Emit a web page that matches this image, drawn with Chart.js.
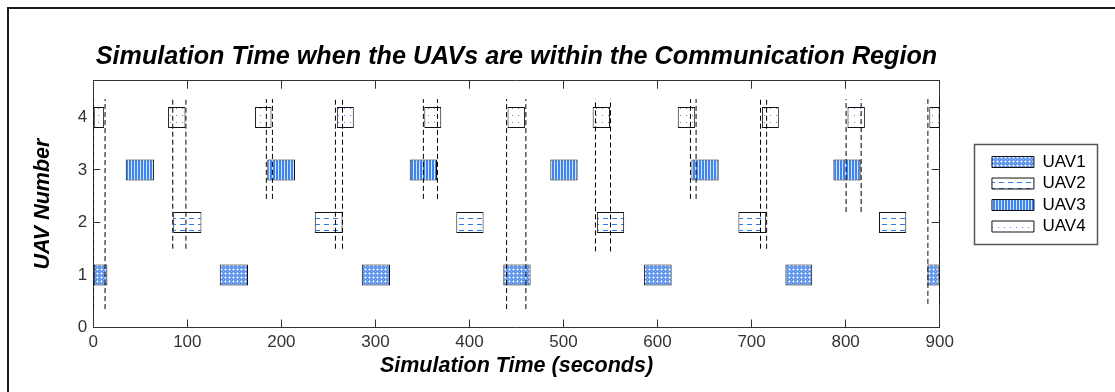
<!DOCTYPE html>
<html>
<head>
<meta charset="utf-8">
<script src="https://cdn.jsdelivr.net/npm/chart.js@4.4.1/dist/chart.umd.min.js"></script>
<style>
  html, body { margin: 0; padding: 0; background: #fff; }
  #wrap { position: relative; width: 1115px; height: 392px; overflow: hidden; }
  #wrap canvas { display: block; }
  #frame { position: absolute; left: 7px; top: 7px; right: -10px; bottom: -10px;
           border-top: 2px solid #1a1a1a; border-left: 2px solid #1a1a1a; pointer-events: none; }
</style>
</head>
<body>
<div id="wrap">
  <canvas id="chart" width="1115" height="392"></canvas>
  <div id="frame"></div>
</div>
<script>
// Time windows (seconds) during which each UAV is inside the communication region
const uavNames = ['UAV1', 'UAV2', 'UAV3', 'UAV4'];
const uavLevels = [1, 2, 3, 4];
const uav1Windows = [[0, 15], [134.5, 164.5], [285.5, 315.5], [436, 465], [585.5, 615], [736, 764.5], [887, 899]];
const uav2Windows = [[85, 115], [235.5, 265], [386, 415], [535.5, 564.5], [686, 715.5], [835.5, 864.5]];
const uav3Windows = [[34.5, 64.5], [185, 214.5], [336.5, 365.5], [486, 515], [636, 665], [787, 816]];
const uav4Windows = [[0, 11.5], [79.5, 98], [172, 189.5], [259, 277], [352, 370], [440.5, 459], [531, 549.5], [621.5, 640], [711, 729], [802, 820.5], [889, 900]];

// Overlap intervals with UAV4 (start / end times) and the lowest UAV level each one reaches
const linkStart = [0, 84.5, 184, 257.5, 351, 439.5, 534, 635, 709.5, 800.5, 887.5];
const linkEnd = [12.5, 98.5, 190.5, 265, 366, 460, 550, 641, 716, 816.5, 900];
const linkFloor = [0.35, 1.5, 2.45, 1.5, 2.45, 0.35, 1.45, 2.45, 1.5, 2.2, 0.45];
const linkTop = 4.35;

const xTicksMax = 900;
const yTicksMax = 4.7;

const FONT = "'Liberation Sans', Arial, Helvetica, sans-serif";

// --- hatch fills ---------------------------------------------------------
function makePattern(w, h, paint) {
  const c = document.createElement('canvas');
  c.width = w; c.height = h;
  const g = c.getContext('2d');
  paint(g);
  return g.createPattern(c, 'repeat');
}
const pxl = (g, color, pts) => { g.fillStyle = color; pts.forEach(p => g.fillRect(p[0], p[1], 1, 1)); };

const fillUav1 = makePattern(4, 4, g => {
  g.fillStyle = '#5b92ee'; g.fillRect(0, 0, 4, 4);
  pxl(g, '#ffffff', [[1, 1]]);
  pxl(g, '#b9d2f8', [[0, 1], [2, 1], [1, 0], [1, 2]]);
  pxl(g, '#8cb4f4', [[3, 3]]);
});
const fillUav2 = makePattern(9, 6, g => {
  g.fillStyle = '#ffffff'; g.fillRect(0, 0, 9, 6);
  g.fillStyle = '#2f7be8'; g.fillRect(0, 2, 5, 1);
});
const fillUav3 = makePattern(3, 1, g => {
  g.fillStyle = '#3f85ee'; g.fillRect(0, 0, 3, 1);
  g.fillStyle = '#d6e5fc'; g.fillRect(2, 0, 1, 1);
});
const fillUav4 = makePattern(6, 7, g => {
  g.fillStyle = '#ffffff'; g.fillRect(0, 0, 6, 7);
  pxl(g, '#4a8cf0', [[2, 3]]);
});
const fills = [fillUav1, fillUav2, fillUav3, fillUav4];
const windows = [uav1Windows, uav2Windows, uav3Windows, uav4Windows];

// --- datasets --------------------------------------------------------------
const barSets = uavNames.map((name, i) => ({
  type: 'bar',
  label: name,
  data: windows[i].map(w => ({ x: w, y: uavLevels[i] })),
  backgroundColor: fills[i],
  borderColor: '#111',
  borderWidth: 1,
  borderSkipped: false,
  grouped: false,
  barPercentage: 0.4,
  categoryPercentage: 1,
  xAxisID: 'x',
  yAxisID: 'y',
  order: 2
}));

const linkSets = [];
linkStart.forEach((s, i) => {
  [s, linkEnd[i]].forEach(t => {
    linkSets.push({
      type: 'line',
      label: 'link',
      data: [{ x: t, y: linkFloor[i] }, { x: t, y: linkTop }],
      borderColor: '#000',
      borderWidth: 1,
      borderDash: [5, 3],
      pointRadius: 0,
      fill: false,
      xAxisID: 'x',
      yAxisID: 'y',
      order: 1
    });
  });
});

// --- frame around the legend ---------------------------------------------
const legendFrame = {
  id: 'legendFrame',
  afterDraw(chart) {
    const boxes = chart.legend && chart.legend.legendHitBoxes;
    if (!boxes || !boxes.length) return;
    const first = boxes[0], last = boxes[boxes.length - 1];
    const x0 = first.left - 18;
    const x1 = Math.max(...boxes.map(b => b.left + b.width)) + 11;
    const y0 = first.top - 10;
    const y1 = last.top + last.height + 8;
    const ctx = chart.ctx;
    ctx.save();
    ctx.strokeStyle = '#555';
    ctx.lineWidth = 1.5;
    ctx.strokeRect(Math.round(x0) + 0.5, Math.round(y0) + 0.5, Math.round(x1 - x0), Math.round(y1 - y0));
    ctx.restore();
  }
};

const axisColor = '#333';
const tickFont = { family: FONT, size: 17 };
const labelFont = { family: FONT, size: 21.5, weight: 'bold', style: 'italic' };

new Chart(document.getElementById('chart'), {
  type: 'bar',
  data: { datasets: [...barSets, ...linkSets] },
  plugins: [legendFrame],
  options: {
    indexAxis: 'y',
    responsive: false,
    animation: false,
    events: [],
    layout: { padding: { left: 0, top: 0, right: 19.4, bottom: 3.5 } },
    scales: {
      x: {
        type: 'linear', position: 'bottom', min: 0, max: xTicksMax,
        ticks: { stepSize: 100, color: axisColor, font: tickFont, padding: 12.3, maxRotation: 0, autoSkip: false },
        grid: { drawOnChartArea: false, drawTicks: true, tickLength: -8, color: axisColor, lineWidth: 1 },
        border: { display: true, color: axisColor, width: 1 },
        title: { display: true, text: 'Simulation Time (seconds)', color: '#000', font: labelFont, padding: { top: 0, bottom: 9.6 } },
        afterFit(s) { s.height = 61; }
      },
      xTop: {
        type: 'linear', position: 'top', min: 0, max: xTicksMax, beginAtZero: false,
        ticks: { stepSize: 100, display: false },
        grid: { drawOnChartArea: false, drawTicks: true, tickLength: -8, color: axisColor, lineWidth: 1 },
        border: { display: true, color: axisColor, width: 1 },
        afterFit(s) { s.height = 6.5; }
      },
      y: {
        type: 'linear', position: 'left', min: 0, max: yTicksMax, offset: false,
        ticks: { stepSize: 1, includeBounds: false, color: axisColor, font: tickFont, padding: 13 },
        grid: { offset: false, drawOnChartArea: false, drawTicks: true, tickLength: -7, color: axisColor, lineWidth: 1 },
        border: { display: true, color: axisColor, width: 1 },
        title: { display: true, text: 'UAV Number', color: '#000', font: labelFont, padding: { top: 30.4, bottom: 0 } },
        afterFit(s) { s.width = 93.3; }
      },
      yRight: {
        type: 'linear', position: 'right', min: 0, max: yTicksMax, offset: false,
        ticks: { stepSize: 1, includeBounds: false, display: false },
        grid: { offset: false, drawOnChartArea: false, drawTicks: true, tickLength: -8, color: axisColor, lineWidth: 1 },
        border: { display: true, color: axisColor, width: 1 },
        afterFit(s) { s.width = 47.8; }
      }
    },
    plugins: {
      tooltip: { enabled: false },
      title: {
        display: true, fullSize: false,
        text: 'Simulation Time when the UAVs are within the Communication Region',
        color: '#000',
        font: { family: FONT, size: 25.2, weight: 'bold', style: 'italic', lineHeight: 1.2 },
        padding: { top: 42, bottom: 2 }
      },
      legend: {
        position: 'right',
        align: 'center',
        labels: {
          boxWidth: 42, boxHeight: 11, padding: 4.5,
          color: '#333',
          font: { family: FONT, size: 17, lineHeight: 1 },
          generateLabels: chart => uavNames.map((name, i) => ({
            text: name,
            fillStyle: fills[i],
            strokeStyle: '#111',
            lineWidth: 1,
            hidden: false,
            datasetIndex: i
          }))
        }
      }
    }
  }
});
</script>
</body>
</html>
